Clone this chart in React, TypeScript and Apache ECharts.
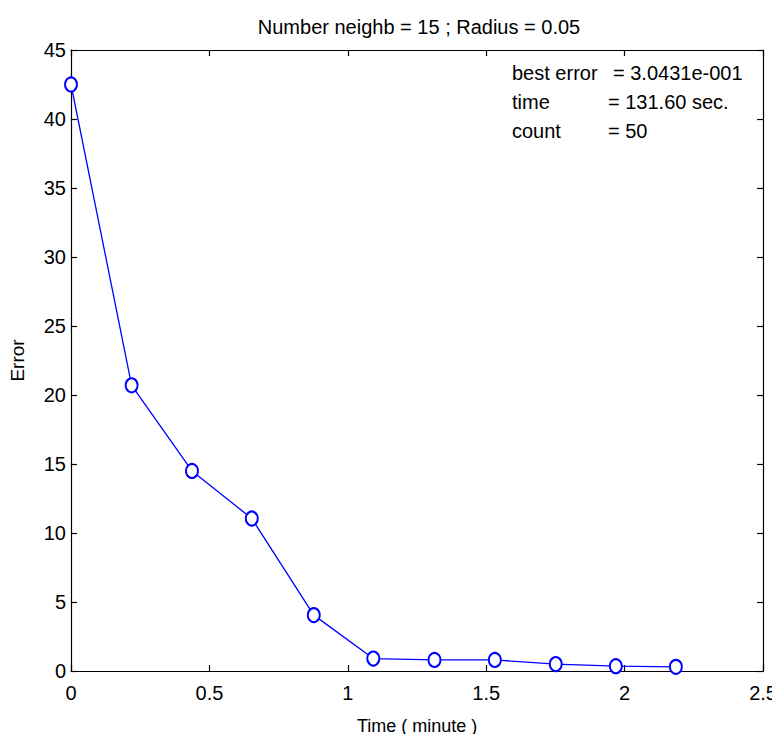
import React, { useEffect, useRef } from "react";
import * as echarts from "echarts";

const timeMinutes = [0, 0.219, 0.437, 0.653, 0.877, 1.092, 1.313, 1.531, 1.751, 1.968, 2.185];
const errorValues = [42.5, 20.7, 14.5, 11.05, 4.05, 0.9, 0.8, 0.8, 0.5, 0.35, 0.3];
const titleText = "Number neighb = 15 ; Radius = 0.05";
const infoLabels = ["best error", "time", "count"];
const infoValues = ["= 3.0431e-001", "= 131.60 sec.", "= 50"];

const FONT = "'Liberation Sans', Arial, sans-serif";

export default function App() {
  const ref = useRef<HTMLDivElement>(null);
  useEffect(() => {
    if (!ref.current) return;
    const chart = echarts.init(ref.current, undefined, { renderer: "svg" });
    const axisCommon = {
      axisLine: { show: true, onZero: false, lineStyle: { color: "#000", width: 1.2 } },
      axisTick: { show: true, inside: true, length: 6, lineStyle: { color: "#000", width: 1.2 } },
      splitLine: { show: false },
    };
    const infoY = [73, 102, 131];
    chart.setOption({
      animation: false,
      backgroundColor: "#fff",
      title: {
        text: titleText,
        left: 414,
        top: 12,
        textAlign: "center",
        textStyle: { fontFamily: FONT, fontSize: 20, fontWeight: "normal", color: "#000" },
      },
      grid: { left: 68, right: 14, top: 50, bottom: 71 },
      xAxis: [
        {
          type: "value",
          min: 0,
          max: 2.5,
          interval: 0.5,
          position: "bottom",
          ...axisCommon,
          axisLabel: { color: "#000", fontFamily: FONT, fontSize: 20, margin: 12, showMaxLabel: true, showMinLabel: true },
          name: "Time ( minute )",
          nameLocation: "middle",
          nameGap: 46,
          nameTextStyle: { color: "#000", fontFamily: FONT, fontSize: 18 },
        },
        {
          type: "value",
          min: 0,
          max: 2.5,
          interval: 0.5,
          position: "top",
          ...axisCommon,
          axisLabel: { show: false },
        },
      ],
      yAxis: [
        {
          type: "value",
          min: 0,
          max: 45,
          interval: 5,
          position: "left",
          ...axisCommon,
          axisLabel: { color: "#000", fontFamily: FONT, fontSize: 20, margin: 5 },
          name: "Error",
          nameLocation: "middle",
          nameGap: 44,
          nameRotate: 90,
          nameTextStyle: { color: "#000", fontFamily: FONT, fontSize: 19 },
        },
        {
          type: "value",
          min: 0,
          max: 45,
          interval: 5,
          position: "right",
          ...axisCommon,
          axisLabel: { show: false },
        },
      ],
      series: [
        {
          type: "line",
          data: timeMinutes.map((t, i) => [t, errorValues[i]]),
          xAxisIndex: 0,
          yAxisIndex: 0,
          lineStyle: { color: "#0000ff", width: 1.3 },
          itemStyle: { color: "#0000ff", borderColor: "#0000ff", borderWidth: 3.2 },
          symbol: "emptyCircle",
          symbolSize: [12, 14],
          showSymbol: true,
        },
      ],
      graphic: infoLabels.flatMap((label, i) => [
        {
          type: "text",
          x: 512,
          y: infoY[i],
          style: { text: label, fontFamily: FONT, fontSize: 20, fill: "#000", verticalAlign: "middle" },
        },
        {
          type: "text",
          x: i === 0 ? 613 : 608,
          y: infoY[i],
          style: { text: infoValues[i], fontFamily: FONT, fontSize: 20, fill: "#000", verticalAlign: "middle" },
        },
      ]),
    });
    return () => chart.dispose();
  }, []);
  return <div ref={ref} style={{ width: 780, height: 742, margin: -8 }} />;
}
